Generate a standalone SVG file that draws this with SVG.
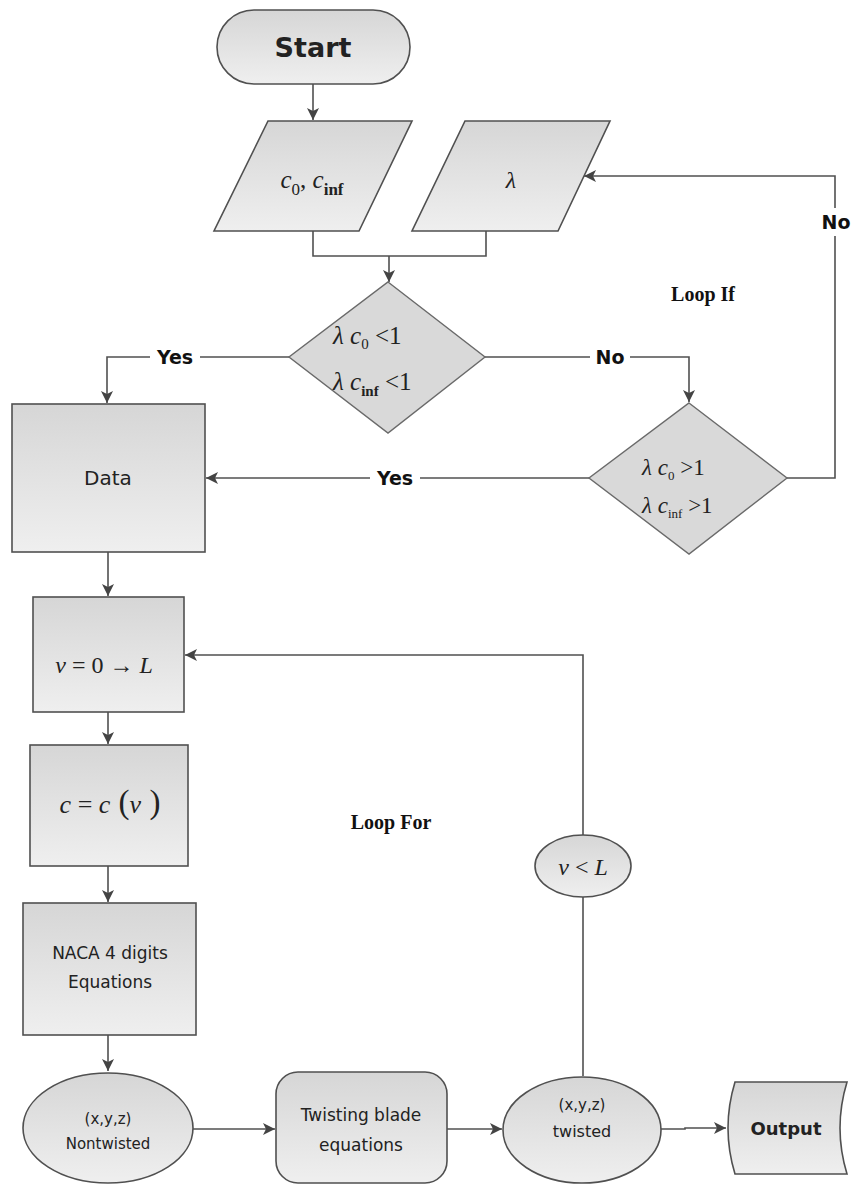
<svg xmlns="http://www.w3.org/2000/svg" width="853" height="1185" viewBox="0 0 853 1185">
<style>
.sh{stroke:#505050;stroke-width:1.6;fill:url(#g)}
.dm{stroke:#6a6a6a;stroke-width:1.4;fill:#d9d9d9}
.ln{stroke:#505050;stroke-width:1.6;fill:none}
.lbl{font-family:"DejaVu Sans","Liberation Sans",sans-serif;font-weight:bold;font-size:19px;fill:#111;text-anchor:middle;dominant-baseline:central}
.sans{font-family:"DejaVu Sans","Liberation Sans",sans-serif;fill:#222;text-anchor:middle;dominant-baseline:central}
.m{font-family:"Liberation Serif",serif;font-style:italic;fill:#222}
.ser{font-family:"Liberation Serif",serif;font-weight:bold;font-size:20px;fill:#111;text-anchor:middle;dominant-baseline:central}
</style>
<defs>
<linearGradient id="g" x1="0" y1="0" x2="0" y2="1">
<stop offset="0" stop-color="#d6d6d6"/>
<stop offset="1" stop-color="#efefef"/>
</linearGradient>
<marker id="a" viewBox="0 0 12 12" refX="12" refY="6" markerWidth="12" markerHeight="12" markerUnits="userSpaceOnUse" orient="auto">
<path d="M0,0 L12,6 L0,12 L3,6 z" fill="#444"/>
</marker>
</defs>
<rect width="853" height="1185" fill="#fff"/>

<g id="connectors">
<path class="ln" d="M313,84 V120" marker-end="url(#a)"/>
<path class="ln" d="M313,231 V256 H486 V231"/>
<path class="ln" d="M389,256 V282" marker-end="url(#a)"/>
<path class="ln" d="M289,357 H107 V403" marker-end="url(#a)"/>
<path class="ln" d="M485,357 H689 V402" marker-end="url(#a)"/>
<path class="ln" d="M589,478 H206" marker-end="url(#a)"/>
<path class="ln" d="M787,478 H835 V176 H584" marker-end="url(#a)"/>
<path class="ln" d="M108,552 V596" marker-end="url(#a)"/>
<path class="ln" d="M108,712 V744" marker-end="url(#a)"/>
<path class="ln" d="M108,866 V902" marker-end="url(#a)"/>
<path class="ln" d="M108,1035 V1071" marker-end="url(#a)"/>
<path class="ln" d="M193,1129 H275" marker-end="url(#a)"/>
<path class="ln" d="M447,1129 H502" marker-end="url(#a)"/>
<path class="ln" d="M661,1129 H685 V1128 H726" marker-end="url(#a)"/>
<path class="ln" d="M583,1076 V897"/>
<path class="ln" d="M583,835 V655 H185" marker-end="url(#a)"/>
<rect x="150" y="344" width="50" height="26" fill="#fff"/>
<text class="lbl" x="175" y="357">Yes</text>
<rect x="590" y="344" width="40" height="26" fill="#fff"/>
<text class="lbl" x="610" y="357">No</text>
<rect x="370" y="465" width="50" height="26" fill="#fff"/>
<text class="lbl" x="395" y="478">Yes</text>
<rect x="818" y="208" width="35" height="28" fill="#fff"/>
<text class="lbl" x="836" y="222">No</text>
</g>

<g id="start">
<rect class="sh" x="217" y="10" width="193" height="74" rx="37"/>
<text class="sans" x="313" y="47" font-size="27" font-weight="bold" fill="#111">Start</text>
</g>

<g id="input-c">
<polygon class="sh" points="268,121 412,121 359,231 214,231"/>
<text class="m" x="312" y="188" text-anchor="middle" font-size="25">c<tspan font-style="normal" font-size="17" dy="7">0</tspan><tspan dy="-7" font-style="normal">, </tspan>c<tspan font-style="normal" font-weight="bold" font-size="17" dy="7">inf</tspan></text>
</g>

<g id="input-lambda">
<polygon class="sh" points="465,121 610,121 558,231 412,231"/>
<text class="m" x="511" y="188" text-anchor="middle" font-size="24">λ</text>
</g>

<g id="cond1">
<polygon class="dm" points="388,282 485,357 388,433 289,357"/>
<text class="m" x="333" y="344" font-size="25">λ c<tspan font-style="normal" font-size="15" dy="5">0</tspan><tspan font-style="normal" dy="-5">  &lt;1</tspan></text>
<text class="m" x="333" y="390" font-size="25">λ c<tspan font-style="normal" font-weight="bold" font-size="15" dy="6">inf</tspan><tspan font-style="normal" dy="-6">  &lt;1</tspan></text>
</g>

<g id="cond2">
<polygon class="dm" points="689,403 787,478 689,554 589,478"/>
<text class="m" x="642" y="475" font-size="23">λ c<tspan font-style="normal" font-size="13" dy="5">0</tspan><tspan font-style="normal" dy="-5"> &gt;1</tspan></text>
<text class="m" x="642" y="513" font-size="23">λ c<tspan font-style="normal" font-size="13" dy="5">inf</tspan><tspan font-style="normal" dy="-5"> &gt;1</tspan></text>
</g>

<text class="ser" x="703" y="294">Loop If</text>
<text class="ser" x="391" y="822">Loop For</text>

<g id="data">
<rect class="sh" x="12" y="404" width="193" height="148"/>
<text class="sans" x="108" y="478" font-size="20">Data</text>
</g>

<g id="loop-init">
<rect class="sh" x="33" y="597" width="151" height="115"/>
<text class="m" x="104" y="673" text-anchor="middle" font-size="24">v <tspan font-style="normal">= 0 → </tspan>L</text>
</g>

<g id="chord">
<rect class="sh" x="30" y="745" width="158" height="121"/>
<text class="m" x="110" y="813" text-anchor="middle" font-size="26">c <tspan font-style="normal">= </tspan>c<tspan font-style="normal" font-size="33"> (</tspan>v<tspan font-style="normal" font-size="33"> )</tspan></text>
</g>

<g id="naca">
<rect class="sh" x="23" y="903" width="173" height="132"/>
<text class="sans" x="110" y="953" font-size="17">NACA 4 digits</text>
<text class="sans" x="110" y="982" font-size="17">Equations</text>
</g>

<g id="nontwisted">
<ellipse class="sh" cx="108" cy="1128" rx="85" ry="55"/>
<text class="sans" x="108" y="1119" font-size="15">(x,y,z)</text>
<text class="sans" x="108" y="1144" font-size="15">Nontwisted</text>
</g>

<g id="twisting">
<rect class="sh" x="276" y="1072" width="171" height="111" rx="22"/>
<text class="sans" x="361" y="1115" font-size="17">Twisting blade</text>
<text class="sans" x="361" y="1145" font-size="17">equations</text>
</g>

<g id="twisted">
<ellipse class="sh" cx="582" cy="1130" rx="79" ry="53"/>
<text class="sans" x="582" y="1105" font-size="15">(x,y,z)</text>
<text class="sans" x="582" y="1131" font-size="16">twisted</text>
</g>

<g id="cond-loop">
<ellipse class="sh" cx="583" cy="866" rx="48" ry="31"/>
<text class="m" x="583" y="875" text-anchor="middle" font-size="24">v <tspan font-style="normal">&lt; </tspan>L</text>
</g>

<g id="output">
<path class="sh" d="M735,1082 H847 Q833,1128 847,1174 H735 Q721,1128 735,1082 Z"/>
<text class="sans" x="786" y="1128" font-size="18" font-weight="bold" fill="#111">Output</text>
</g>
</svg>
